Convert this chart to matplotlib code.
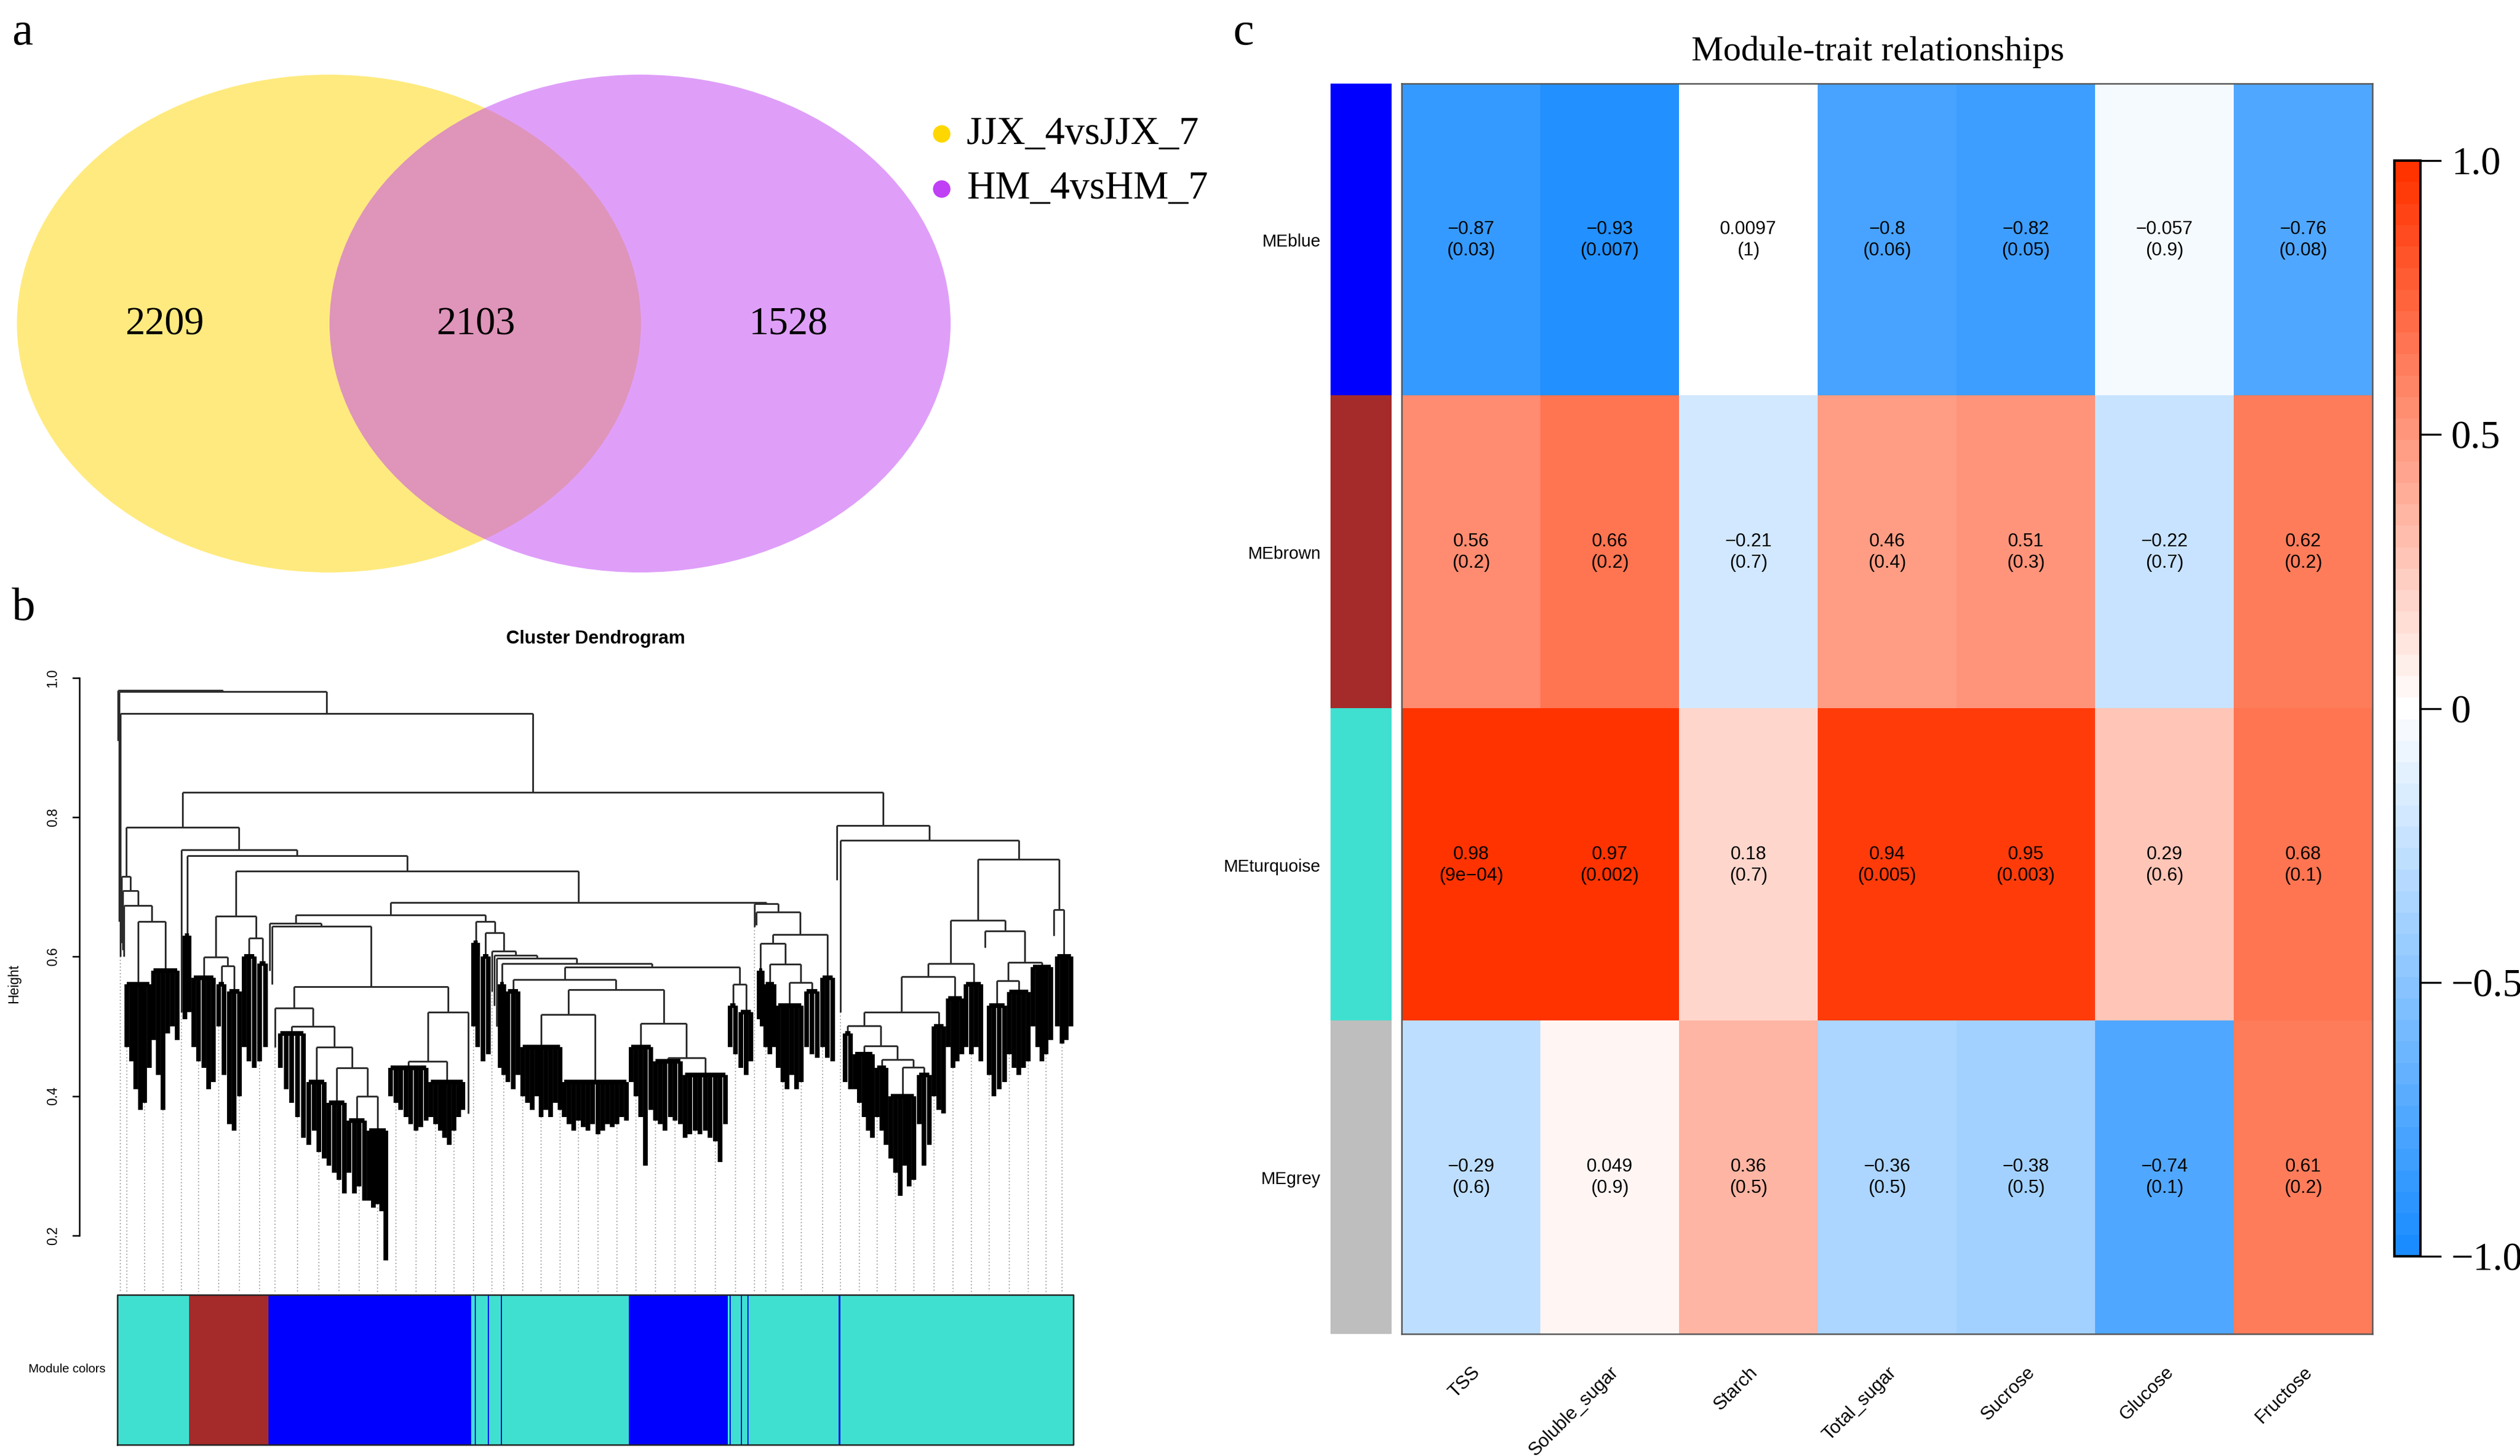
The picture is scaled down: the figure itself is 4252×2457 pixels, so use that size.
import matplotlib
matplotlib.use("Agg")
import matplotlib.pyplot as plt
import numpy as np
from matplotlib.patches import Ellipse
from matplotlib.collections import LineCollection
from matplotlib.colors import LinearSegmentedColormap, to_rgb

# ---------------- data ----------------
# a: Venn
venn_sets = ["JJX_4vsJJX_7", "HM_4vsHM_7"]
venn_colors = ["#FFD700", "#C040F5"]
venn_counts = [2209, 2103, 1528]          # JJX only, shared, HM only

# b: dendrogram, leaf groups in plotting order: (name, n genes, top of dense part, leaf tip heights)
groups = [
    ("S0", 2, None, [0.91]), ("S1", 2, None, [0.65]), ("S2", 2, None, [0.60]),
    ("a_s1", 2, None, [0.62]), ("a_s2", 2, None, [0.61]), ("a_s3", 2, None, [0.60]),
    ("A1", 45, 0.56, [0.47, 0.45, 0.41, 0.38, 0.39, 0.44]),
    ("A2", 47, 0.58, [0.48, 0.43, 0.38, 0.49, 0.50, 0.48]),
    ("M1a", 6, None, [0.52]),
    ("M1b", 14, 0.63, [0.51, 0.52]),
    ("B1", 42, 0.57, [0.47, 0.45, 0.44, 0.41, 0.42]),
    ("B2a", 18, 0.56, [0.50, 0.43]),
    ("B2b", 25, 0.55, [0.36, 0.35, 0.40]),
    ("B3", 25, 0.60, [0.47, 0.45, 0.44]),
    ("B4", 20, 0.59, [0.45, 0.47]),
    ("cs1", 4, None, [0.58]), ("cs2", 4, None, [0.56]), ("cs3", 7, None, [0.47]),
    ("Cs1", 49, 0.49, [0.44, 0.41, 0.39, 0.37, 0.34]),
    ("Cs2", 34, 0.42, [0.33, 0.35, 0.32, 0.31]),
    ("Cs3", 34, 0.39, [0.30, 0.29, 0.28, 0.26]),
    ("Cs4", 34, 0.365, [0.29, 0.26, 0.27, 0.25]),
    ("Cs5", 36, 0.35, [0.25, 0.24, 0.245, 0.235, 0.164]),
    ("Cr1", 68, 0.44, [0.40, 0.39, 0.38, 0.37, 0.36, 0.35, 0.355, 0.365]),
    ("Cr2", 62, 0.42, [0.37, 0.36, 0.35, 0.34, 0.33, 0.35, 0.37, 0.38]),
    ("c790", 10, None, [0.375]),
    ("D0", 15, 0.62, [0.50, 0.47]),
    ("D1", 18, 0.60, [0.45, 0.46]),
    ("d_s1", 4, None, [0.55]), ("d_s2", 4, None, [0.53]), ("d_s3", 4, None, [0.50]),
    ("D2", 13, 0.56, [0.44, 0.43]),
    ("D3", 25, 0.55, [0.42, 0.41, 0.43]),
    ("D4", 70, 0.47, [0.40, 0.39, 0.38, 0.40, 0.37, 0.38, 0.37, 0.39, 0.38]),
    ("D5", 112, 0.42, [0.37, 0.36, 0.35, 0.365, 0.355, 0.35, 0.36, 0.345, 0.35, 0.36, 0.355, 0.36, 0.37, 0.365]),
    ("E0", 41, 0.47, [0.42, 0.40, 0.37, 0.30, 0.38]),
    ("E1", 50, 0.45, [0.365, 0.36, 0.35, 0.37, 0.365, 0.36]),
    ("E2", 76, 0.43, [0.34, 0.345, 0.35, 0.345, 0.35, 0.34, 0.335, 0.305, 0.36]),
    ("F1", 18, 0.53, [0.47, 0.46]),
    ("F2", 26, 0.52, [0.44, 0.43, 0.45]),
    ("g_s1", 3, None, [0.643]), ("g_s2", 3, None, [0.645]),
    ("G1a", 11, 0.58, [0.51, 0.50]),
    ("G1b", 20, 0.56, [0.47, 0.46, 0.47]),
    ("G1c", 47, 0.53, [0.44, 0.42, 0.41, 0.43, 0.41, 0.42]),
    ("G1d", 28, 0.55, [0.47, 0.46, 0.455]),
    ("G2", 25, 0.57, [0.47, 0.455, 0.45]),
    ("r_s1", 6, None, [0.71]), ("r_s2", 6, None, [0.52]),
    ("R7a", 18, 0.49, [0.42, 0.41]),
    ("R7b", 37, 0.46, [0.41, 0.39, 0.37, 0.35, 0.34]),
    ("R7c", 23, 0.44, [0.37, 0.35, 0.33]),
    ("R7d", 47, 0.40, [0.31, 0.29, 0.257, 0.30, 0.27, 0.28]),
    ("R7e", 26, 0.43, [0.36, 0.30, 0.33]),
    ("R7r", 24, 0.50, [0.40, 0.38, 0.375]),
    ("R6r", 30, 0.54, [0.47, 0.44, 0.45, 0.46]),
    ("R5r", 33, 0.56, [0.47, 0.46, 0.47, 0.45]),
    ("r8s", 5, None, [0.613]),
    ("R10L", 35, 0.53, [0.43, 0.40, 0.41, 0.42]),
    ("R11", 40, 0.549, [0.46, 0.44, 0.43, 0.44, 0.45]),
    ("R9r", 37, 0.585, [0.50, 0.47, 0.45, 0.46, 0.48]),
    ("rf_s", 4, None, [0.63]),
    ("Rfb", 30, 0.60, [0.50, 0.475, 0.48, 0.50]),
]

# merges: (new node, height, left, right)
merges = [
    ("A4", 0.650, "A1", "A2"), ("A3", 0.673, "a_s3", "A4"),
    ("A2n", 0.695, "a_s2", "A3"), ("A", 0.715, "a_s1", "A2n"),
    ("B12", 0.587, "B2a", "B2b"), ("B1x", 0.599, "B1", "B12"),
    ("B34", 0.627, "B3", "B4"), ("B", 0.658, "B1x", "B34"),
    ("Cc4", 0.40, "Cs4", "Cs5"), ("Cc3", 0.44, "Cs3", "Cc4"),
    ("Cc2", 0.47, "Cs2", "Cc3"), ("Cc1", 0.50, "Cs1", "Cc2"),
    ("CL", 0.526, "cs3", "Cc1"), ("Crr", 0.45, "Cr1", "Cr2"),
    ("CR", 0.52, "Crr", "c790"), ("Cm", 0.557, "CL", "CR"),
    ("Cb", 0.644, "cs2", "Cm"), ("C", 0.648, "cs1", "Cb"),
    ("E12", 0.455, "E1", "E2"), ("E", 0.504, "E0", "E12"),
    ("D45", 0.517, "D4", "D5"), ("D45E", 0.553, "D45", "E"),
    ("DE", 0.567, "D3", "D45E"), ("F", 0.56, "F1", "F2"),
    ("DEF", 0.585, "DE", "F"), ("Dc4", 0.590, "D2", "DEF"),
    ("Dc3", 0.598, "d_s3", "Dc4"), ("Dc2", 0.602, "d_s2", "Dc3"),
    ("Dc1", 0.608, "d_s1", "Dc2"), ("D1x", 0.634, "D1", "Dc1"),
    ("D", 0.650, "D0", "D1x"), ("N9", 0.660, "C", "D"),
    ("G1cd", 0.563, "G1c", "G1d"), ("G1bx", 0.589, "G1b", "G1cd"),
    ("G1", 0.619, "G1a", "G1bx"), ("G12", 0.632, "G1", "G2"),
    ("G13", 0.664, "g_s2", "G12"), ("G", 0.676, "g_s1", "G13"),
    ("N8", 0.678, "N9", "G"), ("N7", 0.723, "B", "N8"),
    ("N6", 0.745, "M1b", "N7"), ("N5", 0.753, "M1a", "N6"),
    ("N4", 0.786, "A", "N5"),
    ("R7d4", 0.441, "R7d", "R7e"), ("R7c3", 0.452, "R7c", "R7d4"),
    ("R7b2", 0.472, "R7b", "R7c3"), ("R7L", 0.501, "R7a", "R7b2"),
    ("R7", 0.520, "R7L", "R7r"), ("R6", 0.571, "R7", "R6r"),
    ("R5", 0.590, "R6", "R5r"), ("R10", 0.565, "R10L", "R11"),
    ("R9", 0.592, "R10", "R9r"), ("R8", 0.637, "r8s", "R9"),
    ("R4", 0.652, "R5", "R8"), ("Rf", 0.667, "rf_s", "Rfb"),
    ("R3", 0.740, "R4", "Rf"), ("R2", 0.767, "r_s2", "R3"),
    ("R1", 0.788, "r_s1", "R2"), ("N3", 0.836, "N4", "R1"),
    ("N2", 0.949, "S2", "N3"), ("N1", 0.980, "S1", "N2"),
    ("root", 0.982, "S0", "N1"),
]

bar_modules = ["turquoise", "brown", "blue", "turquoise", "blue", "turquoise", "blue",
               "turquoise", "blue", "turquoise", "blue", "turquoise", "blue", "turquoise",
               "blue", "turquoise", "blue", "turquoise", "blue", "turquoise"]
bar_widths = [120, 134, 342, 6, 2, 20, 2, 20, 2, 213, 167, 3, 2, 17, 2, 9, 2, 152, 3, 392]

# c: module-trait heatmap
me_names = ["MEblue", "MEbrown", "MEturquoise", "MEgrey"]
me_colors = ["blue", "brown", "turquoise", "grey"]
traits = ["TSS", "Soluble_sugar", "Starch", "Total_sugar", "Sucrose", "Glucose", "Fructose"]
cor = [[-0.87, -0.93, 0.0097, -0.8, -0.82, -0.057, -0.76],
       [0.56, 0.66, -0.21, 0.46, 0.51, -0.22, 0.62],
       [0.98, 0.97, 0.18, 0.94, 0.95, 0.29, 0.68],
       [-0.29, 0.049, 0.36, -0.36, -0.38, -0.74, 0.61]]
pval = [["0.03", "0.007", "1", "0.06", "0.05", "0.9", "0.08"],
        ["0.2", "0.2", "0.7", "0.4", "0.3", "0.7", "0.2"],
        ["9e-04", "0.002", "0.7", "0.005", "0.003", "0.6", "0.1"],
        ["0.6", "0.9", "0.5", "0.5", "0.5", "0.1", "0.2"]]

rcol = {"turquoise": "#40E0D0", "brown": "#A52A2A", "blue": "#0000FF", "grey": "#BEBEBE"}

# ---------------- figure ----------------
W, H = 4252, 2457
fig = plt.figure(figsize=(W / 300, H / 300), dpi=300)
serif = "Liberation Serif"
sans = "Liberation Sans"
plt.rcParams["font.family"] = sans


def px_axes(x0, y0, x1, y1):
    return fig.add_axes([x0 / W, 1 - y1 / H, (x1 - x0) / W, (y1 - y0) / H])


def px_text(x, y, s, **kw):
    fig.text(x / W, 1 - y / H, s, **kw)


# panel labels
px_text(20, 75, "a", fontsize=19, family=serif, va="baseline")
px_text(20, 1046, "b", fontsize=19, family=serif, va="baseline")
px_text(2081, 75, "c", fontsize=19, family=serif, va="baseline")

# ---- a: Venn ----
ax_a = px_axes(0, 0, 2100, 1000)
ax_a.set_xlim(0, 2100)
ax_a.set_ylim(1000, 0)
ax_a.axis("off")
ax_a.add_patch(Ellipse((555, 546), 1053, 840, fc=venn_colors[0], alpha=0.5, ec="none"))
ax_a.add_patch(Ellipse((1080, 546), 1048, 840, fc=venn_colors[1], alpha=0.5, ec="none"))
for xx, n in zip([278, 803, 1330], venn_counts):
    ax_a.text(xx, 548, str(n), ha="center", va="center", fontsize=16, family=serif)
for k, (nm, c) in enumerate(zip(venn_sets, venn_colors)):
    yy = 226 + 93 * k
    ax_a.scatter([1589], [yy], s=50, color=c, edgecolors="none")
    ax_a.text(1631, yy, nm, ha="left", va="center", fontsize=16, family=serif)

# ---- b: dendrogram ----
gdict = {g[0]: g[1:] for g in groups}
mdict = {m[0]: m[1:] for m in merges}
segs_tree, segs_leaf, leaves = [], [], []


def place(name, x0):
    if name in gdict:
        size, head, tips = gdict[name]
        n = len(tips)
        xs = x0 + (np.arange(n) + 0.5) * size / n
        leaves.extend(zip(xs, tips))
        if head is None:
            return xs[0], tips[0], x0 + size
        for x, t in zip(xs, tips):
            segs_leaf.append([(x, head), (x, t)])
        if n > 1:
            segs_leaf.append([(xs[0], head), (xs[-1], head)])
        return xs.mean(), head, x0 + size
    h, left, right = mdict[name]
    xl, hl, x1 = place(left, x0)
    xr, hr, x2 = place(right, x1)
    segs_tree.extend([[(xl, hl), (xl, h)], [(xl, h), (xr, h)], [(xr, h), (xr, hr)]])
    return (xl + xr) / 2, h, x2


total = sum(bar_widths)
pad = 0.04 * total
ymin = 0.119

ax_b = px_axes(134, 1125, 1875, 2180)
place("root", 0)
guides = [[(x, t), (x, ymin)] for i, (x, t) in enumerate(leaves) if i % 4 == 2]
ax_b.add_collection(LineCollection(guides, colors="#a0a0a0", linewidths=0.45,
                                   linestyles=(0, (1, 2))))
ax_b.add_collection(LineCollection(segs_tree, colors="#2b2b2b", linewidths=0.7))
ax_b.add_collection(LineCollection(segs_leaf, colors="black", linewidths=1.9))
ax_b.set_xlim(-pad, total + pad)
ax_b.set_ylim(ymin, 1.016)
for s in ["top", "right", "bottom"]:
    ax_b.spines[s].set_visible(False)
ax_b.spines["left"].set_bounds(0.2, 1.0)
ax_b.spines["left"].set_linewidth(0.6)
ax_b.set_xticks([])
ax_b.set_yticks([0.2, 0.4, 0.6, 0.8, 1.0], ["0.2", "0.4", "0.6", "0.8", "1.0"],
                rotation=90, va="center", fontsize=5.5)
ax_b.tick_params(axis="y", length=3, width=0.6, pad=5)
px_text(24, 1660, "Height", rotation=90, ha="center", va="center", fontsize=5.5)
px_text(1005, 1086, "Cluster Dendrogram", ha="center", va="baseline",
        fontsize=7.5, fontweight="bold")

ax_m = px_axes(134, 2185, 1875, 2438)
lefts = np.concatenate([[0], np.cumsum(bar_widths)[:-1]])
ax_m.bar(lefts, 1, width=bar_widths, align="edge",
         color=[rcol[m] for m in bar_modules], edgecolor="none")
ax_m.set_xlim(-pad, total + pad)
ax_m.set_ylim(0, 1)
ax_m.axis("off")
ax_m.plot([0, total, total, 0, 0], [0, 0, 1, 1, 0], color="#222222", lw=0.6, clip_on=False)
px_text(178, 2310, "Module colors", ha="right", va="center", fontsize=5)

# ---- c: module-trait heatmap ----
cmap = LinearSegmentedColormap.from_list(
    "bwr51", [(0.1, 0.55, 1.0), (1, 1, 1), (1.0, 0.2, 0.0)], N=51)
ax_c = px_axes(2365, 141, 4003, 2251)
im = ax_c.imshow(np.array(cor), cmap=cmap, vmin=-1, vmax=1, aspect="auto",
                 extent=(0, len(traits), len(me_names), 0), interpolation="nearest")
for i in range(len(me_names)):
    for j in range(len(traits)):
        lab = "%g\n(%s)" % (cor[i][j], pval[i][j])
        ax_c.text(j + 0.5, i + 0.5, lab.replace("-", "\u2212"), ha="center", va="center",
                  fontsize=7.5, linespacing=1.25)
ax_c.set_xticks(np.arange(len(traits)) + 0.5, traits, rotation=45, ha="right",
                rotation_mode="anchor", fontsize=7.5)
ax_c.tick_params(axis="x", length=0, pad=12)
ax_c.set_yticks([])
for sp in ax_c.spines.values():
    sp.set_color("#555555")
    sp.set_linewidth(0.6)

ax_s = px_axes(2245, 141, 2348, 2251)
ax_s.imshow(np.array([[to_rgb(rcol[c])] for c in me_colors]), aspect="auto",
            extent=(0, 1, len(me_names), 0), interpolation="nearest")
ax_s.set_xticks([])
ax_s.set_yticks(np.arange(len(me_names)) + 0.5, me_names, fontsize=7)
ax_s.tick_params(axis="y", length=0, pad=4)
for sp in ax_s.spines.values():
    sp.set_visible(False)

px_text(3169, 102, "Module-trait relationships", ha="center", va="baseline",
        fontsize=14.5, family=serif)

cax = px_axes(4040, 271, 4084, 2120)
cb = fig.colorbar(im, cax=cax, ticks=[-1, -0.5, 0, 0.5, 1])
cb.ax.set_yticklabels(["\u22121.0", "\u22120.5", "0", "0.5", "1.0"], family=serif, fontsize=16)
cb.ax.tick_params(length=8.4, width=0.8, pad=4)
cb.outline.set_linewidth(1.0)

fig.savefig("out.png", dpi=300)
